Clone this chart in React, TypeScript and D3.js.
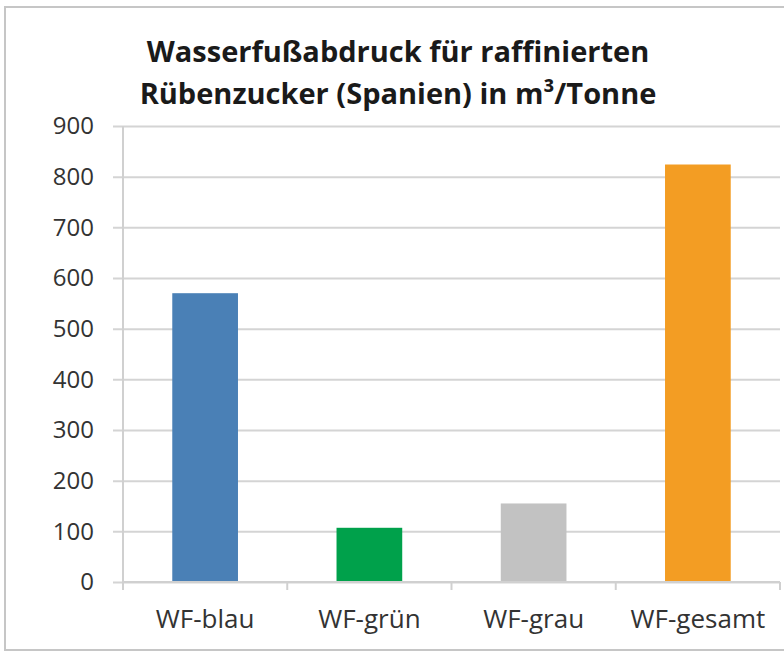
import { useEffect, useRef } from 'react';
import * as d3 from 'd3';

// Daten aus dem Diagramm (m³/Tonne)
const CATEGORIES = ['WF-blau', 'WF-grün', 'WF-grau', 'WF-gesamt'];
const VALUES = [570, 107, 155, 824];
const COLORS = ['#4a80b6', '#00a14b', '#c2c2c2', '#f39d23'];
const Y_TICKS = [0, 100, 200, 300, 400, 500, 600, 700, 800, 900];
const TITLE_LINES = ['Wasserfußabdruck für raffinierten', 'Rübenzucker (Spanien) in m³/Tonne'];

const W = 784;
const H = 653;
const FONT = '"Open Sans", Lato, sans-serif';

export default function App() {
  const svgRef = useRef<SVGSVGElement | null>(null);

  useEffect(() => {
    const svg = d3.select(svgRef.current);
    svg.selectAll('*').remove();

    const plot = { left: 123, right: 780, top: 126, bottom: 582 };

    const x = d3.scaleBand<string>()
      .domain(CATEGORIES)
      .range([plot.left, plot.right])
      .paddingInner(0.6)
      .paddingOuter(0.3);

    const y = d3.scaleLinear().domain([0, 900]).range([plot.bottom, plot.top]);

    // Rahmen
    svg.append('rect')
      .attr('x', 5).attr('y', 7)
      .attr('width', W + 10).attr('height', 643)
      .attr('fill', '#fff')
      .attr('stroke', '#c6c6c6')
      .attr('stroke-width', 2);

    // Titel
    svg.append('text')
      .attr('x', 398).attr('y', 62)
      .attr('text-anchor', 'middle')
      .attr('font-family', FONT)
      .attr('font-size', 29)
      .attr('font-weight', 700)
      .attr('fill', '#1a1a1a')
      .selectAll('tspan')
      .data(TITLE_LINES)
      .join('tspan')
      .attr('x', 398)
      .attr('dy', (_, i) => (i === 0 ? 0 : 42))
      .text(d => d);

    // Gitterlinien + Y-Ticks
    const yAxis = d3.axisLeft(y)
      .tickValues(Y_TICKS)
      .tickSize(-(plot.right - plot.left) - 10)
      .tickPadding(19)
      .tickFormat(d3.format('d'));

    const gy = svg.append('g')
      .attr('transform', `translate(${plot.left - 10},0)`)
      .call(yAxis);
    gy.select('.domain').remove();
    gy.selectAll('.tick line').attr('stroke', '#d4d4d4').attr('stroke-width', 2);
    gy.selectAll('.tick text')
      .attr('font-family', FONT)
      .attr('font-size', 24)
      .attr('fill', '#333');

    // Y-Achsenlinie
    svg.append('line')
      .attr('x1', plot.left).attr('x2', plot.left)
      .attr('y1', plot.top).attr('y2', plot.bottom + 8)
      .attr('stroke', '#d0d0d0').attr('stroke-width', 2);

    // Balken
    svg.append('g')
      .selectAll('rect')
      .data(CATEGORIES)
      .join('rect')
      .attr('x', d => x(d) ?? 0)
      .attr('width', x.bandwidth())
      .attr('y', (_, i) => y(VALUES[i]))
      .attr('height', (_, i) => y(0) - y(VALUES[i]))
      .attr('fill', (_, i) => COLORS[i]);

    // X-Achse
    svg.append('line')
      .attr('x1', plot.left).attr('x2', plot.right)
      .attr('y1', plot.bottom).attr('y2', plot.bottom)
      .attr('stroke', '#d0d0d0').attr('stroke-width', 2);

    const bounds = d3.range(1, CATEGORIES.length + 1)
      .map(i => plot.left + i * (plot.right - plot.left) / CATEGORIES.length);
    svg.append('g')
      .selectAll('line')
      .data(bounds)
      .join('line')
      .attr('x1', d => d).attr('x2', d => d)
      .attr('y1', plot.bottom).attr('y2', plot.bottom + 8)
      .attr('stroke', '#d0d0d0').attr('stroke-width', 2);

    svg.append('g')
      .selectAll('text')
      .data(CATEGORIES)
      .join('text')
      .attr('x', d => (x(d) ?? 0) + x.bandwidth() / 2)
      .attr('y', 628)
      .attr('text-anchor', 'middle')
      .attr('font-family', FONT)
      .attr('font-size', 26)
      .attr('fill', '#333')
      .text(d => d);
  }, []);

  return (
    <div style={{ position: 'fixed', left: 0, top: 0, width: W, height: H, background: '#fff' }}>
      <svg ref={svgRef} width={W} height={H} style={{ display: 'block' }} />
    </div>
  );
}
